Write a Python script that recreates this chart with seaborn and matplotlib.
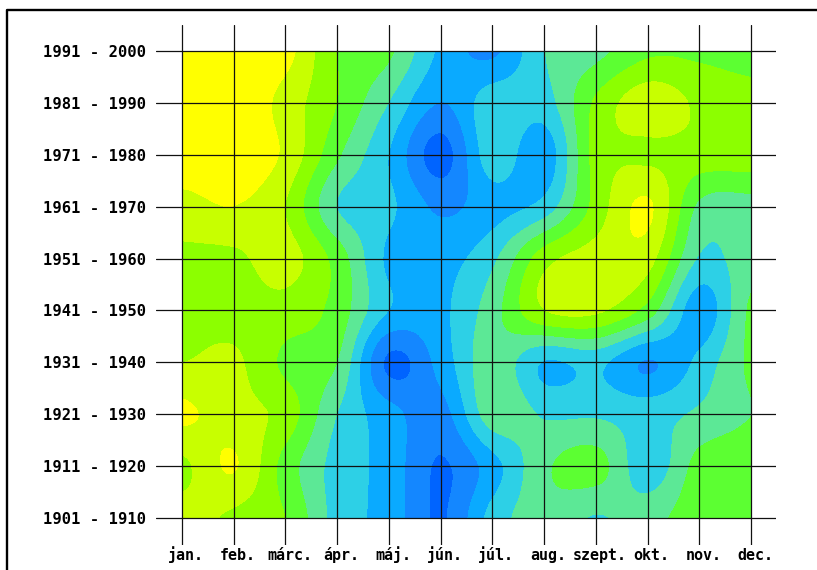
import numpy as np
import matplotlib
matplotlib.use('Agg')
import matplotlib.pyplot as plt
from matplotlib.colors import BoundaryNorm, ListedColormap
from matplotlib.patches import Rectangle
from matplotlib.transforms import ScaledTranslation
import seaborn as sns

honapok = ['jan.', 'feb.', 'márc.', 'ápr.', 'máj.', 'jún.', 'júl.', 'aug.', 'szept.', 'okt.', 'nov.', 'dec.']
evtizedek = ['1901 - 1910', '1911 - 1920', '1921 - 1930', '1931 - 1940', '1941 - 1950',
             '1951 - 1960', '1961 - 1970', '1971 - 1980', '1981 - 1990', '1991 - 2000']

# értékek havonta (alulról felfelé)
d1901 = [38, 41, 45, 57, 62, 70.5, 58, 52, 55.3, 52, 47, 47]
d1911 = [41, 34.6, 47, 57, 62, 70.5, 62, 51, 48, 58, 48, 47]
d1921 = [34, 38, 42, 55, 63, 67, 52, 55.5, 55.5, 57, 54, 50]
d1931 = [40, 39, 46, 50, 71, 63, 52, 60.2, 58.6, 65.3, 58.5, 49]
d1941 = [42, 42, 42, 47, 60, 61, 52, 40, 39, 47, 63, 49]
d1951 = [41, 41, 38, 47, 61, 62, 56, 42, 38, 38, 55.5, 52]
d1961 = [37, 35, 40, 55, 59, 66, 62, 58, 43, 34.3, 51, 52]
d1971 = [31, 31, 36, 49, 60, 72, 57, 63, 43, 41, 42, 42]
d1981 = [30, 30, 37, 45, 55, 65, 57, 57, 44, 37, 41, 43]
d1991 = [30, 30, 33, 45, 49, 61, 66, 55, 51.5, 46, 46, 47]
ertekek = [d1901, d1911, d1921, d1931, d1941, d1951, d1961, d1971, d1981, d1991]

szintek = [0, 35, 40, 45, 50, 55, 60, 65, 70, 100]
szinek = ['#ffff00', '#c8ff00', '#8cff00', '#5cff32', '#5ce896', '#2dd0e6', '#0aaaff', '#1487ff', '#0064ff']

sns.set_style('white')
plt.rcParams['font.family'] = ['DejaVu Sans Mono']

fig = plt.figure(figsize=(8.17, 5.70), dpi=100)
ax = fig.add_axes([156 / 817, 1 - 545 / 570, 620 / 817, 520 / 570])

paletta = ListedColormap(sns.color_palette(szinek))
kep = ax.imshow(np.array(ertekek), origin='lower', extent=(-0.5, 11.5, -0.5, 9.5), aspect='auto',
                cmap=paletta, norm=BoundaryNorm(szintek, paletta.N),
                interpolation='catrom', interpolation_stage='data')
kep.set_clip_path(Rectangle((0, 0), 11, 9, transform=ax.transData))

ax.set_xlim(-0.5, 11.48)
ax.set_ylim(-0.52, 9.5)
ax.set_xticks(range(12), honapok)
ax.set_yticks(range(10), evtizedek)
ax.grid(True, color='#111111', linewidth=0.9)
ax.set_axisbelow(False)
ax.tick_params(length=0, labelcolor='black')
ax.tick_params(axis='x', pad=10.8, labelsize=10.8)
ax.tick_params(axis='y', pad=7, labelsize=11.2)
eltolas = ScaledTranslation(4 / 100, 0, fig.dpi_scale_trans)
for felirat in ax.get_xticklabels():
    felirat.set_fontweight('bold')
    felirat.set_verticalalignment('baseline')
    felirat.set_transform(felirat.get_transform() + eltolas)
for felirat in ax.get_yticklabels():
    felirat.set_fontweight('bold')
sns.despine(ax=ax, left=True, bottom=True)

# keret bal és felső oldala
fig.add_artist(plt.Line2D([7 / 817, 7 / 817, 1], [0, 1 - 10 / 570, 1 - 10 / 570],
                          color='black', linewidth=1.7))

plt.savefig('out.png', dpi=100)
